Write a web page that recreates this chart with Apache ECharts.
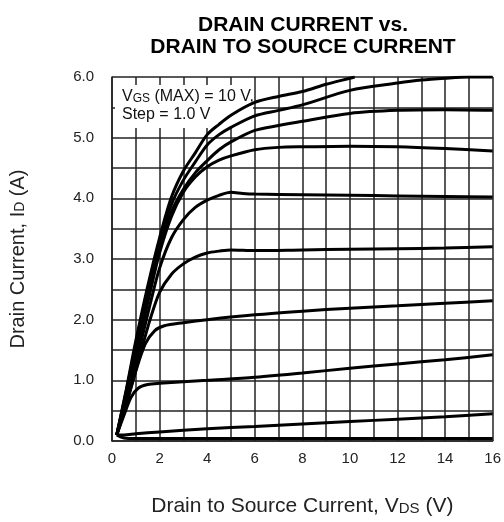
<!DOCTYPE html>
<html><head><meta charset="utf-8">
<script src="https://cdn.jsdelivr.net/npm/echarts@6/dist/echarts.min.js"></script>
<style>html,body{margin:0;padding:0;background:#fff}#c{width:504px;height:522px}</style>
</head><body><div id="c"></div>
<script>
// Data: drain current (A) vs drain-source voltage (V), one curve per VGS step
const xTicks = [0, 2, 4, 6, 8, 10, 12, 14, 16];
const yTicks = [0.0, 1.0, 2.0, 3.0, 4.0, 5.0, 6.0];

const c1x = [0.2, 0.5, 1, 2, 4, 6, 8, 10, 12, 14, 16];
const c1y = [0.1, 0.05, 0.04, 0.04, 0.04, 0.04, 0.04, 0.04, 0.04, 0.04, 0.04];

const c2x = [0.2, 0.5, 1, 2, 4, 6, 8, 10, 12, 14, 16];
const c2y = [0.1, 0.1, 0.12, 0.15, 0.2, 0.24, 0.28, 0.32, 0.36, 0.4, 0.45];

const c3x = [0.2, 0.5, 0.8, 1.1, 1.5, 2, 4, 6, 8, 10, 12, 14, 16];
const c3y = [0.1, 0.42, 0.72, 0.87, 0.93, 0.95, 1.0, 1.05, 1.12, 1.2, 1.27, 1.34, 1.42];

const c4x = [0.2, 0.6, 1.0, 1.4, 1.8, 2.2, 3, 4, 6, 8, 10, 12, 14, 16];
const c4y = [0.1, 0.6, 1.15, 1.6, 1.82, 1.9, 1.95, 2.0, 2.08, 2.14, 2.19, 2.23, 2.27, 2.31];

const c5x = [0.2, 0.7, 1.2, 1.6, 2, 2.5, 3, 3.5, 4, 4.5, 5, 6, 8, 10, 12, 14, 16];
const c5y = [0.1, 0.75, 1.45, 2.0, 2.45, 2.75, 2.92, 3.03, 3.1, 3.13, 3.15, 3.14, 3.15, 3.16, 3.17, 3.18, 3.2];

const c6x = [0.2, 0.7, 1.2, 1.6, 2, 2.5, 3, 3.5, 4, 4.5, 5, 5.5, 6, 8, 10, 12, 14, 16];
const c6y = [0.1, 0.85, 1.6, 2.25, 2.85, 3.35, 3.65, 3.85, 3.97, 4.05, 4.1, 4.08, 4.07, 4.06, 4.05, 4.04, 4.03, 4.02];

const c7x = [0.2, 0.7, 1.2, 1.6, 2, 2.5, 3, 3.5, 4, 4.5, 5, 6, 7, 8, 10, 12, 14, 16];
const c7y = [0.1, 0.9, 1.75, 2.45, 3.1, 3.7, 4.1, 4.35, 4.52, 4.63, 4.7, 4.8, 4.84, 4.85, 4.86, 4.85, 4.82, 4.78];

const c8x = [0.2, 0.6, 1, 1.5, 2, 2.5, 3, 3.5, 4, 4.5, 5, 6, 7, 8, 10, 12, 14, 16];
const c8y = [0.1, 0.8, 1.55, 2.42, 3.2, 3.78, 4.15, 4.42, 4.62, 4.8, 4.93, 5.12, 5.2, 5.27, 5.4, 5.45, 5.46, 5.45];

const c9x = [0.2, 0.6, 1, 1.5, 2, 2.5, 3, 3.5, 4, 4.5, 5, 6, 7, 8, 10, 12, 13, 14, 15, 16];
const c9y = [0.1, 0.82, 1.6, 2.5, 3.3, 3.9, 4.3, 4.6, 4.88, 5.05, 5.17, 5.36, 5.45, 5.54, 5.78, 5.9, 5.95, 5.98, 6.0, 6.0];

const c10x = [0.2, 0.6, 1, 1.5, 2, 2.5, 3, 3.5, 4, 4.5, 5, 6, 7, 8, 9, 10, 10.2];
const c10y = [0.1, 0.85, 1.65, 2.55, 3.35, 4.02, 4.45, 4.75, 5.05, 5.22, 5.37, 5.58, 5.68, 5.76, 5.88, 5.98, 6.0];

const curves = [[c1x,c1y],[c2x,c2y],[c3x,c3y],[c4x,c4y],[c5x,c5y],[c6x,c6y],[c7x,c7y],[c8x,c8y],[c9x,c9y],[c10x,c10y]];

const chart = echarts.init(document.getElementById('c'), null, {renderer: 'canvas'});
const font = 'Liberation Sans, Arial, sans-serif';
const gridLine = {show: true, lineStyle: {color: '#222', width: 1.5}};

chart.setOption({
  animation: false,
  backgroundColor: '#fff',
  title: {
    text: 'DRAIN CURRENT vs.\nDRAIN TO SOURCE CURRENT',
    left: 298, top: 9, textAlign: 'center',
    textStyle: {fontFamily: font, fontWeight: 'bold', fontSize: 21, lineHeight: 22, color: '#000'}
  },
  grid: {left: 111, right: 10, top: 77, bottom: 74, show: false},
  xAxis: {
    type: 'value', min: 0, max: 16, interval: 1,
    axisLine: {show: true, lineStyle: {color: '#222', width: 1.5}},
    axisTick: {show: false},
    splitLine: gridLine,
    axisLabel: {
      fontFamily: font, fontSize: 15, color: '#222', margin: 10,
      formatter: v => xTicks.includes(v) ? String(v) : ''
    },
    name: 'Drain to Source Current, V{s|DS} (V)',
    nameLocation: 'middle', nameGap: 55,
    nameTextStyle: {fontFamily: font, fontSize: 21, color: '#222',
      rich: {s: {fontFamily: font, fontSize: 15, color: '#222', padding: [4, 0, 0, 0]}}}
  },
  yAxis: {
    type: 'value', min: 0, max: 6, interval: 0.5,
    axisLine: {show: true, lineStyle: {color: '#222', width: 1.5}},
    axisTick: {show: false},
    splitLine: gridLine,
    axisLabel: {
      fontFamily: font, fontSize: 15, color: '#222', margin: 18,
      formatter: v => yTicks.some(t => Math.abs(t - v) < 1e-9) ? v.toFixed(1) : ''
    },
    name: 'Drain Current, I{s|D} (A)',
    nameLocation: 'middle', nameGap: 84, nameRotate: 90,
    nameTextStyle: {fontFamily: font, fontSize: 20, color: '#222',
      rich: {s: {fontFamily: font, fontSize: 14, color: '#222', padding: [4, 0, 0, 0]}}}
  },
  graphic: [
    {type: 'rect', shape: {x: 115, y: 85, width: 138, height: 43}, style: {fill: '#fff'}, z: 1},
    {type: 'text', x: 122, y: 88, z: 100,
      style: {text: 'V{s|GS} (MAX) = 10 V,\nStep = 1.0 V', fontFamily: font, fontSize: 16, lineHeight: 18, fill: '#111',
        rich: {s: {fontFamily: font, fontSize: 12, fill: '#111', padding: [3, 0, 0, 0]}}}}
  ],
  series: curves.map(([xs, ys]) => ({
    type: 'line', smooth: 0.3, symbol: 'none', clip: true,
    lineStyle: {color: '#000', width: 3},
    data: xs.map((x, i) => [x, ys[i]]), z: 5
  }))
});
</script></body></html>
